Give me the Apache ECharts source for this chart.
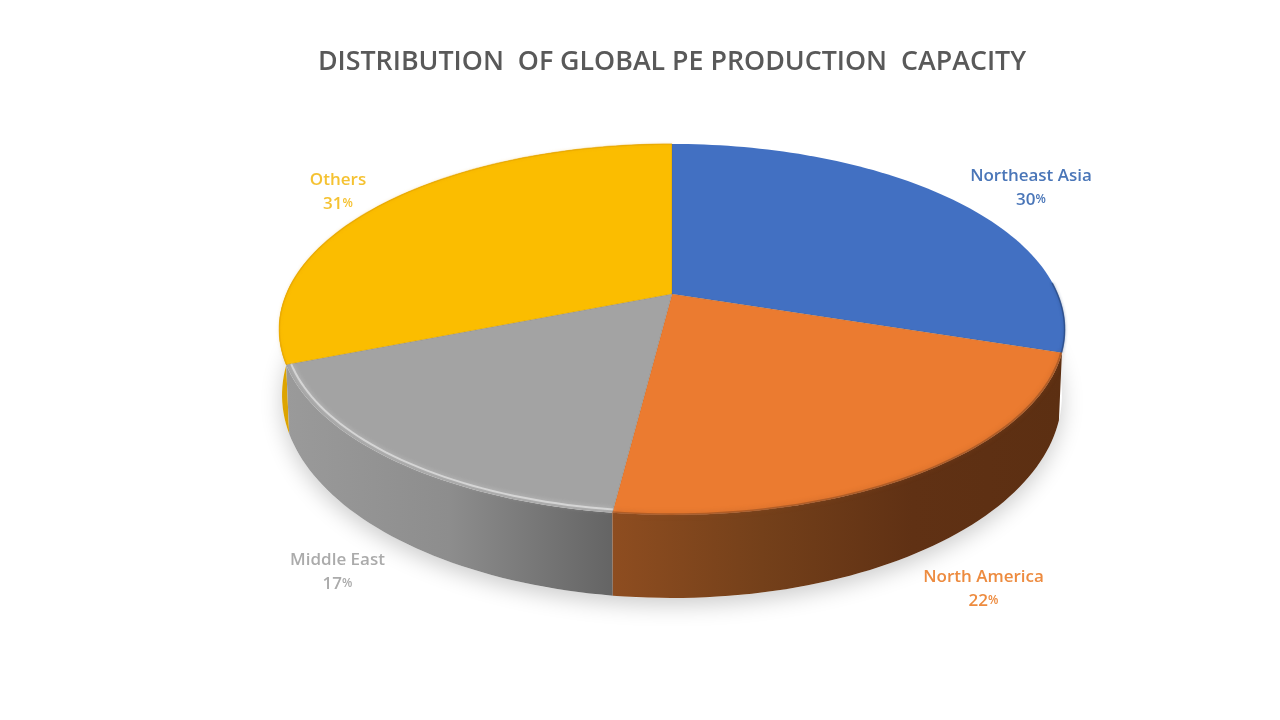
<!DOCTYPE html>
<html>
<head>
<meta charset="utf-8">
<title>Distribution of global PE production capacity</title>
<style>
    html, body { margin: 0; padding: 0; background: #fff; }
    #chart { width: 1280px; height: 720px; }
</style>
<script src="https://cdn.jsdelivr.net/npm/echarts@6/dist/echarts.min.js"></script>
</head>
<body>
<div id="chart"></div>
<script>
    var titleText = 'DISTRIBUTION\u00a0\u00a0OF GLOBAL PE PRODUCTION\u00a0\u00a0CAPACITY';
    var regions = ['Northeast Asia', 'North America', 'Middle East', 'Others'];
    var shares = [30, 22, 17, 31];

    // colours per slice
    var faceColors = ['#4270C2', '#EB7B30', '#A3A3A3', '#FBBD00'];
    var labelColors = ['#4A76B8', '#ED8B3F', '#ABABAB', '#F5C232'];
    // the wall of the first slice is hidden behind the top face
    var wallStops = [
        null,
        ['#8E4D20', '#74401A', '#603114', '#5C2F12'],
        ['#9A9A9A', '#8D8D8D', '#646464'],
        ['#DDA400', '#D49B00']
    ];
    var wallZ = [1, 4, 3, 2];
    var rimStyles = [
        { color: 'rgba(38,70,125,0.7)', width: 1.5, blur: 3, r: 0.999, from: 0.8 },
        { color: 'rgba(150,80,35,0.65)', width: 2, blur: 5, r: 0.998, from: 0 },
        { color: 'rgba(222,222,222,0.8)', width: 2, blur: 5, r: 0.988, from: 0 },
        { color: 'rgba(225,160,0,0.5)', width: 1.5, blur: 3, r: 0.999, from: 0 }
    ];

    // label centres on the page
    var labelSpots = [[1031, 188], [983.5, 589], [337.5, 572], [338, 192]];

    // the disc is a circle seen in perspective
    var tilt = 0.191;
    var topDisc = { x: 672, y: 294, a: 385.8, b: 178.7 };
    var lowDisc = { x: 672, y: 356.2, a: 382.8, b: 195.6 };
    var total = shares.reduce(function (s, v) { return s + v; }, 0);

    function project(disc, angle, r) {
        var X = Math.sin(angle) * r, Y = -Math.cos(angle) * r;
        var w = 1 - tilt * Y;
        return [disc.x + disc.a * X / w, disc.y + disc.b * Y / w];
    }

    function arc(disc, from, to, r) {
        var pts = [], steps = Math.max(8, Math.ceil((to - from) * 40));
        for (var i = 0; i <= steps; i++) {
            pts.push(project(disc, from + (to - from) * i / steps, r === undefined ? 1 : r));
        }
        return pts;
    }

    function sliceAngles(index) {
        var before = 0;
        for (var i = 0; i < index; i++) before += shares[i];
        return [before / total * Math.PI * 2, (before + shares[index]) / total * Math.PI * 2];
    }

    function renderWall(params) {
        var i = params.dataIndex, a = sliceAngles(i);
        if (!wallStops[i]) return null;
        var pts = arc(topDisc, a[0], a[1]).concat(arc(lowDisc, a[0], a[1]).reverse());
        var stops = wallStops[i].map(function (c, n, all) {
            return { offset: n / (all.length - 1), color: c };
        });
        return {
            type: 'polygon',
            z2: wallZ[i],
            shape: { points: pts },
            style: { fill: new echarts.graphic.LinearGradient(0, 0, 1, 0, stops) }
        };
    }

    function renderFace(params) {
        var i = params.dataIndex, a = sliceAngles(i), rim = rimStyles[i];
        var apex = [topDisc.x, topDisc.y];
        var pts = arc(topDisc, a[0], a[1]);
        var rimFrom = a[0] + (a[1] - a[0]) * rim.from;
        return {
            type: 'group',
            children: [{
                type: 'polygon',
                z2: 10 + i,
                shape: { points: pts.concat([apex]) },
                style: { fill: faceColors[i] }
            }, {
                type: 'polyline',
                z2: 20,
                shape: { points: arc(topDisc, rimFrom, a[1], rim.r) },
                style: {
                    fill: null,
                    stroke: rim.color,
                    lineWidth: rim.width,
                    shadowBlur: rim.blur,
                    shadowColor: rim.color
                }
            }, {
                type: 'polyline',
                z2: 21,
                shape: { points: [pts[0], apex] },
                style: { fill: null, stroke: 'rgba(80,70,60,0.2)', lineWidth: 1 }
            }, {
                type: 'text',
                z2: 30,
                x: labelSpots[i][0],
                y: labelSpots[i][1],
                style: {
                    text: regions[i] + '\n{n|' + shares[i] + '}{p|%}',
                    fill: labelColors[i],
                    font: '600 17px "Open Sans", "Noto Sans", sans-serif',
                    align: 'center',
                    verticalAlign: 'middle',
                    lineHeight: 24,
                    rich: {
                        n: { fill: labelColors[i], font: '600 17px "Open Sans", "Noto Sans", sans-serif' },
                        p: { fill: labelColors[i], font: '600 12px "Open Sans", "Noto Sans", sans-serif' }
                    }
                }
            }]
        };
    }

    // soft shadow under the disc, drawn once
    function renderShadow() {
        return {
            type: 'polygon',
            shape: { points: arc(lowDisc, 0, Math.PI * 2) },
            style: {
                fill: '#ffffff',
                shadowBlur: 22,
                shadowOffsetY: 7,
                shadowColor: 'rgba(0,0,0,0.2)'
            }
        };
    }

    var chart = echarts.init(document.getElementById('chart'));
    chart.setOption({
        backgroundColor: '#fff',
        animation: false,
        title: {
            text: titleText,
            left: 667,
            top: 44,
            textAlign: 'center',
            textStyle: {
                fontFamily: '"Open Sans", "Noto Sans", sans-serif',
                fontSize: 26.8,
                fontWeight: 600,
                color: '#595959'
            }
        },
        series: [
            { type: 'custom', coordinateSystem: 'none', silent: true, z: 1, data: [total], renderItem: renderShadow },
            { type: 'custom', coordinateSystem: 'none', silent: true, z: 2, data: shares, renderItem: renderWall },
            { type: 'custom', coordinateSystem: 'none', silent: true, z: 3, data: shares, renderItem: renderFace }
        ]
    });
</script>
</body>
</html>
